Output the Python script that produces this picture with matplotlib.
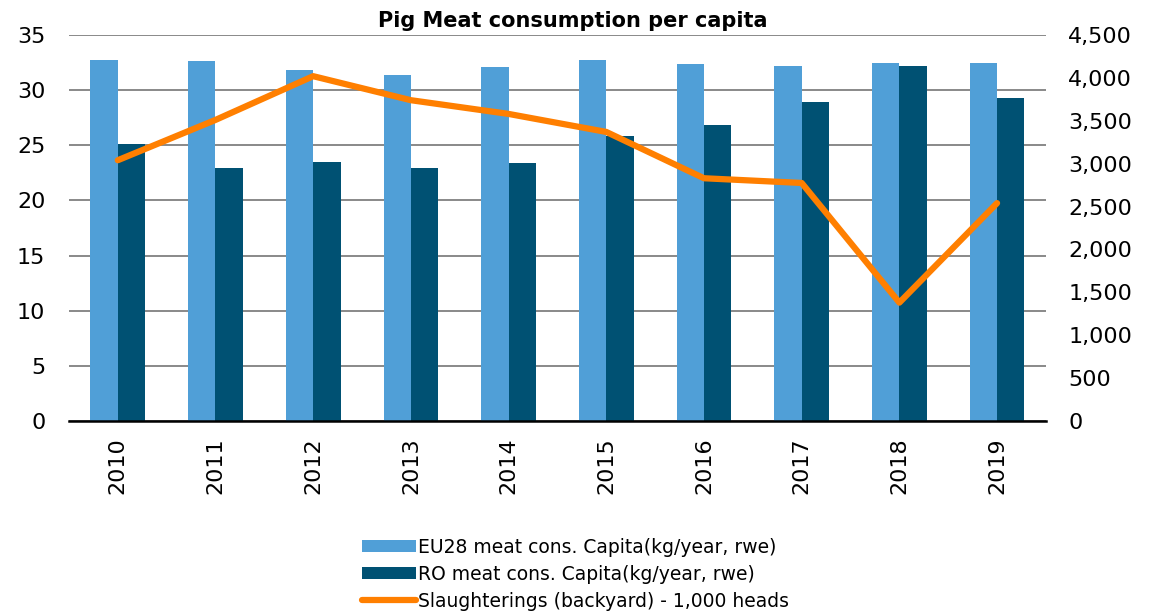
import matplotlib.pyplot as plt
import numpy as np
from matplotlib.ticker import FuncFormatter

years = ['2010', '2011', '2012', '2013', '2014', '2015', '2016', '2017', '2018', '2019']
eu28 = [32.7, 32.6, 31.8, 31.4, 32.1, 32.7, 32.4, 32.2, 32.5, 32.5]
ro = [25.1, 22.9, 23.5, 22.9, 23.4, 25.8, 26.8, 28.9, 32.2, 29.3]
slaughter = [3040, 3510, 4020, 3740, 3580, 3370, 2830, 2775, 1380, 2540]

plt.rcParams['font.family'] = 'DejaVu Sans'

fig = plt.figure(figsize=(11.51, 6.11), dpi=100)
ax = fig.add_axes([0.0599, 0.311, 0.8488, 0.6317])
ax2 = ax.twinx()

x = np.arange(len(years))
w = 0.28
ax.bar(x - w / 2, eu28, w, color='#509fd7', label='EU28 meat cons. Capita(kg/year, rwe)', zorder=2)
ax.bar(x + w / 2, ro, w, color='#005173', label='RO meat cons. Capita(kg/year, rwe)', zorder=2)
ax2.plot(x, slaughter, color='#ff7f00', lw=4.5, solid_capstyle='round',
         label='Slaughterings (backyard) - 1,000 heads')

ax.set_xlim(-0.5, 9.5)
ax.set_ylim(0, 35)
ax.set_yticks(range(0, 36, 5))
ax2.set_ylim(0, 4500)
ax2.set_yticks(range(0, 4501, 500))
ax2.yaxis.set_major_formatter(FuncFormatter(lambda v, p: f'{int(v):,}'))

ax.set_xticks(x)
ax.set_xticklabels(years, rotation=90)
ax.yaxis.grid(True, color='#808080', lw=1.3, zorder=0)
ax.set_axisbelow(True)
for a in (ax, ax2):
    for s in ['top', 'left', 'right']:
        a.spines[s].set_visible(False)
ax2.spines['bottom'].set_visible(False)
ax.spines['bottom'].set_color('black')
ax.spines['bottom'].set_linewidth(1.8)
ax.tick_params(axis='x', length=0, labelsize=16, pad=12)
ax.tick_params(axis='y', length=0, labelsize=16, pad=17)
ax2.tick_params(axis='y', length=0, labelsize=16, pad=16)

ax.set_title('Pig Meat consumption per capita', fontsize=15, fontweight='bold', pad=6, x=0.516)

h1, l1 = ax.get_legend_handles_labels()
h2, l2 = ax2.get_legend_handles_labels()
fig.legend(h1 + h2, l1 + l2, loc='lower center', bbox_to_anchor=(0.5, -0.027),
           frameon=False, fontsize=13.5, handlelength=2.9, handleheight=0.6,
           labelspacing=0.42, handletextpad=0.1)

fig.savefig('out.png', dpi=100)
